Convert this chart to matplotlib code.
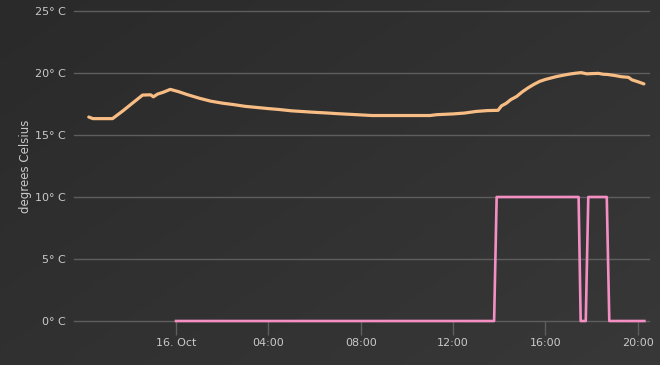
import numpy as np
import matplotlib
matplotlib.use("Agg")
import matplotlib.pyplot as plt

# hours relative to midnight of 16 Oct
temp_hours = [-3.78, -3.6, -2.75, -2.3, -1.9, -1.45, -1.1, -0.98, -0.8, -0.55,
              -0.25, 0.1, 0.5, 1.0, 1.5, 2.0, 2.5, 3.0, 3.5, 4.0, 4.5, 5.0,
              5.5, 6.0, 6.5, 7.0, 7.5, 8.0, 8.5, 9.0, 10.0, 11.0, 11.3, 12.0,
              12.5, 13.0, 13.5, 13.95, 14.1, 14.3, 14.5, 14.75, 15.0, 15.25,
              15.5, 15.75, 16.0, 16.5, 17.0, 17.3, 17.55, 17.8, 18.0, 18.3,
              18.5, 18.7, 19.0, 19.3, 19.6, 19.75, 20.0, 20.27]
temp_values = [16.45, 16.32, 16.32, 16.95, 17.55, 18.22, 18.24, 18.08, 18.3,
               18.45, 18.68, 18.5, 18.25, 17.97, 17.73, 17.57, 17.45, 17.31,
               17.22, 17.13, 17.05, 16.95, 16.89, 16.83, 16.78, 16.72, 16.67,
               16.62, 16.57, 16.57, 16.57, 16.57, 16.64, 16.7, 16.77, 16.9,
               16.97, 16.99, 17.35, 17.55, 17.85, 18.1, 18.48, 18.8, 19.08,
               19.32, 19.48, 19.72, 19.9, 19.98, 20.03, 19.93, 19.95, 19.97,
               19.9, 19.88, 19.8, 19.7, 19.65, 19.45, 19.3, 19.12]

heat_hours = [0.0, 13.78, 13.89, 17.44, 17.53, 17.75, 17.86, 18.66, 18.77, 20.29]
heat_values = [0, 0, 10, 10, 0, 0, 10, 10, 0, 0]

y_ticks = [0, 5, 10, 15, 20, 25]
y_labels = ["0° C", "5° C", "10° C", "15° C", "20° C", "25° C"]
x_ticks = [0, 4, 8, 12, 16, 20]
x_labels = ["16. Oct", "04:00", "08:00", "12:00", "16:00", "20:00"]

txt = "#c9c9c9"
fig = plt.figure(figsize=(6.6, 3.65), dpi=100)

# diagonal dark gradient behind everything
bg = fig.add_axes([0, 0, 1, 1], zorder=-10)
gx, gy = np.meshgrid(np.linspace(0, 1, 200), np.linspace(0, 1, 200))
bg.imshow(0.55 * gx + 0.45 * gy, cmap=matplotlib.colors.LinearSegmentedColormap.from_list(
    "bg", ["#2a2a2a", "#383838"]), aspect="auto", extent=[0, 1, 1, 0])
bg.axis("off")

ax = fig.add_axes([74 / 660, 1 - 321 / 365, 575 / 660, 310 / 365])
ax.set_facecolor("none")
ax.set_xlim(-4.42, 20.49)
ax.set_ylim(0, 25)

for v in y_ticks:
    ax.axhline(v, color="#5e5e5e", lw=1.0, zorder=1, clip_on=False)

ax.plot(temp_hours, temp_values, color="#f8bd85", lw=2.3, zorder=3,
        solid_capstyle="round")
ax.plot(heat_hours, heat_values, color="#f48fc4", lw=1.9, zorder=3, clip_on=False)

for s in ax.spines.values():
    s.set_visible(False)
ax.set_yticks(y_ticks)
ax.set_yticklabels(y_labels)
ax.set_xticks(x_ticks)
ax.set_xticklabels(x_labels)
ax.tick_params(axis="y", length=0, pad=6, labelsize=8, labelcolor=txt)
ax.tick_params(axis="x", length=10, width=1, color="#5e5e5e", pad=2,
               labelsize=8, labelcolor=txt)
ax.set_ylabel("degrees Celsius", color=txt, fontsize=8.5, labelpad=2)

fig.savefig("out.png", dpi=100)
